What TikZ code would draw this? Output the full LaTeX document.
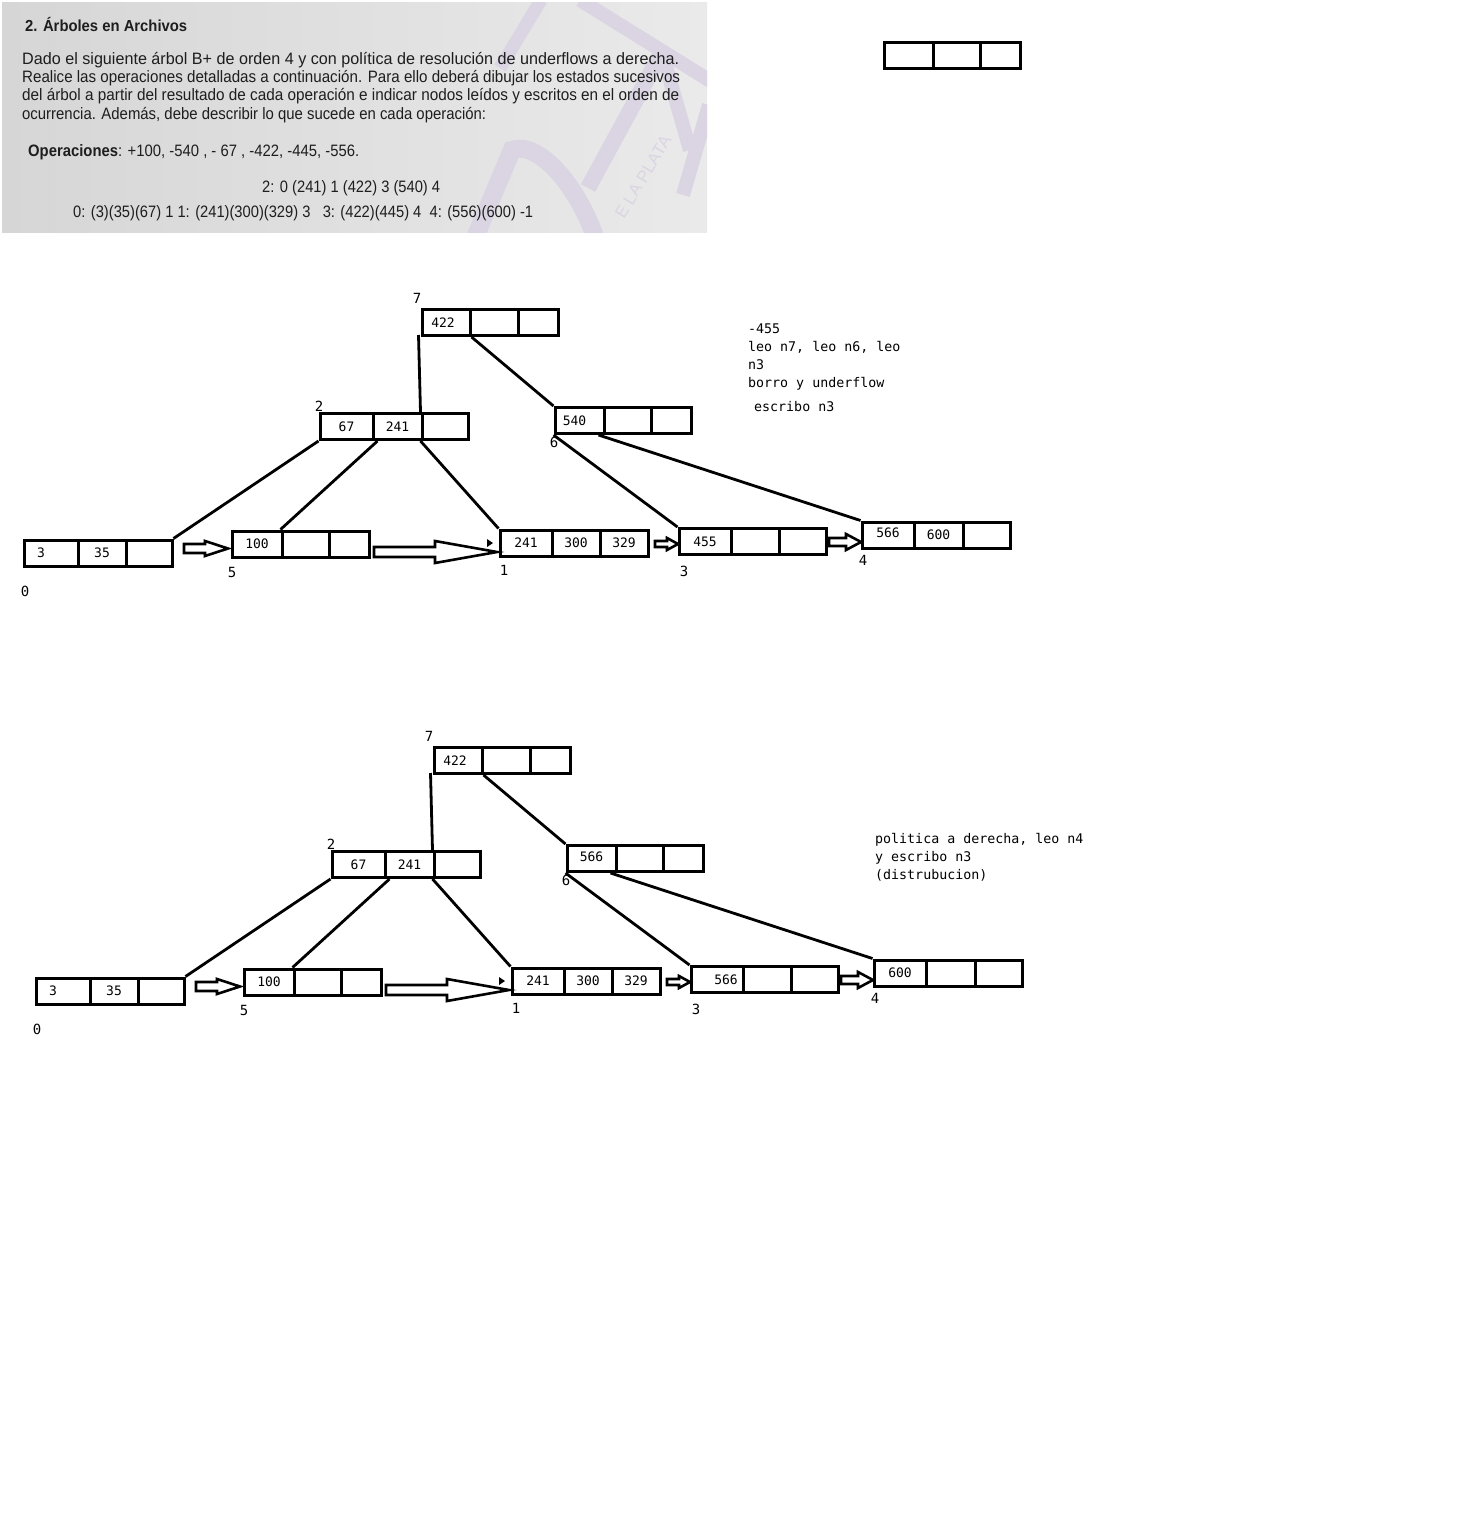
\documentclass[tikz,border=0pt]{standalone}
\usepackage{fontspec}
\usepackage{graphicx}
\usetikzlibrary{calc}
\setmainfont{Liberation Sans}
\newfontfamily\monof{DejaVu Sans Mono}
\newfontfamily\photof{Liberation Sans}
\definecolor{phototext}{RGB}{30,30,30}
\definecolor{wm}{RGB}{219,213,227}
\newlength\fitlen
\newcommand\fitw[2]{\settowidth\fitlen{#2}\pgfmathsetmacro\fitfac{#1/\fitlen}\scalebox{\fitfac}[1]{#2}}
\newcommand\tribox[9]{%
 \node[cell, minimum width={#3-#2}] (#1a) at ({(#2+#3)/2},#6) {#7};
 \node[cell, minimum width={#4-#3}] (#1b) at ({(#3+#4)/2},#6) {#8};
 \node[cell, minimum width={#5-#4}] (#1c) at ({(#4+#5)/2},#6) {#9};}
\newcommand\blockarrow[5]{\draw[barrow] let \p1=(#1), \p2=(#2) in
 (\x1,\y1-#3pt) -- (\x2-#5pt,\y1-#3pt) -- (\x2-#5pt,\y1-#4pt) -- (\x2,\y1)
 -- (\x2-#5pt,\y1+#4pt) -- (\x2-#5pt,\y1+#3pt) -- (\x1,\y1+#3pt) -- cycle;}
\newcommand\drawtree[5]{%
 \tribox{#1n7}{422}{470}{518}{558}{322.5}{\hspace*{-6pt}422}{}{}
 \tribox{#1n2}{320}{373}{422}{468}{426.5}{67}{241}{}
 \tribox{#1n6}{555}{604}{651}{691}{420.5}{#2}{}{}
 \tribox{#1n0}{24}{78}{126}{172}{553}{\hspace*{-20pt}3}{35}{}
 \tribox{#1n5}{232}{282}{329}{369}{544}{100}{}{}
 \tribox{#1n1}{500}{552}{600}{648}{543}{241}{300}{329}
 \tribox{#1n3}{679}{731}{779}{826}{541.5}{#3}{}{}
 \tribox{#1n4}{862}{914}{963}{1010}{535}{#4}{#5}{}
 \node[idx] (#1l7) at (417,298) {7};
 \node[idx] (#1l2) at (319,406) {2};
 \node[idx] (#1l6) at (554,442) {6};
 \node[idx] (#1l0) at (25,591) {0};
 \node[idx] (#1l5) at (232,572) {5};
 \node[idx] (#1l1) at (504,570) {1};
 \node[idx] (#1l3) at (684,571) {3};
 \node[idx] (#1l4) at (863,560) {4};
 \draw[conn] ([xshift=-2pt,yshift=2pt]#1n7a.south west) -- (#1n2c.north west);
 \draw[conn] (#1n7a.south east) -- (#1n6a.north west);
 \draw[conn] (#1n2a.south west) -- (#1n0c.north east);
 \draw[conn] ([xshift=6pt]#1n2b.south west) -- (#1n5b.north west);
 \draw[conn] (#1n2c.south west) -- (#1n1a.north west);
 \draw[conn] (#1n6a.south west) -- (#1n3a.north west);
 \draw[conn] ([xshift=-4pt]#1n6b.south west) -- (#1n4a.north west);
 \coordinate (#1a1s) at (184,548.5); \coordinate (#1a1e) at (228,548.5);
 \blockarrow{#1a1s}{#1a1e}{4.5}{7.5}{23}
 \coordinate (#1a2s) at (374,552); \coordinate (#1a2e) at (497,552);
 \blockarrow{#1a2s}{#1a2e}{5}{11}{62}
 \coordinate (#1a3s) at (655,544); \coordinate (#1a3e) at (678,544);
 \blockarrow{#1a3s}{#1a3e}{3}{6}{11}
 \coordinate (#1a4s) at (829,542); \coordinate (#1a4e) at (861,542);
 \blockarrow{#1a4s}{#1a4e}{4}{8}{15}
 \fill (487,539) -- (493,543) -- (487,547) -- cycle;
}
\begin{document}
\begin{tikzpicture}[x=1pt,y=-1pt,
 cell/.style={draw, line width=3pt, inner sep=0pt, minimum height=26pt,
   font=\monof\fontsize{13}{14}\selectfont},
 idx/.style={inner sep=0pt, font=\monof\fontsize{14}{15}\selectfont},
 conn/.style={line width=2.8pt},
 barrow/.style={draw, line width=2.6pt, fill=white, line join=miter},
 note/.style={inner sep=0pt, anchor=base west, font=\monof\fontsize{13.3}{18}\selectfont},
 photo/.style={inner sep=0pt, anchor=west, text=phototext,
   font=\photof\fontsize{16.5}{18}\selectfont},
 wmline/.style={draw=wm, line width=#1, line cap=butt}]
\useasboundingbox (0,0) rectangle (1482,1536);
\fill[white] (0,0) rectangle (1482,1536);
% ---- photo of the exercise
\shade[left color={rgb,255:red,214;green,214;blue,214}, right color={rgb,255:red,234;green,234;blue,234}] (2,3) rectangle (707,232);
\begin{scope}
\clip (2,3) rectangle (707,232);
\draw[wmline=13pt] (541,0) -- (500,68);
\draw[wmline=14pt] (580,0) -- (712,82);
\draw[wmline=16pt] (662,52) -- (588,188);
\draw[wmline=14pt] (662,52) -- (690,150);
\draw[wmline=14pt] (709,105) -- (683,195);
\draw[wmline=18pt] (474,240) -- (512,150) .. controls (540,140) and (580,190) .. (596,240);
\node[rotate=59, inner sep=0pt, text=wm, font=\photof\fontsize{17}{17}\selectfont] (wmtext) at (643,177) {E LA PLATA};
\end{scope}
\node[photo, font=\photof\bfseries\fontsize{16}{18}\selectfont] (ptitle) at (25,24) {\fitw{162}{2. Árboles en Archivos}};
\node[photo] (pl1) at (22,60) {\fitw{657}{Dado el siguiente árbol B+ de orden 4 y con política de resolución de underflows a derecha.}};
\node[photo] (pl2) at (22,78) {\fitw{658}{Realice las operaciones detalladas a continuación. Para ello deberá dibujar los estados sucesivos}};
\node[photo] (pl3) at (22,96) {\fitw{657}{del árbol a partir del resultado de cada operación e indicar nodos leídos y escritos en el orden de}};
\node[photo] (pl4) at (22,115) {\fitw{464}{ocurrencia. Además, debe describir lo que sucede en cada operación:}};
\node[photo] (pops) at (28,152) {\fitw{331}{\textbf{Operaciones}: +100, -540 , - 67 , -422, -445, -556.}};
\node[photo] (pl6) at (262,188) {\fitw{178}{2: 0 (241) 1 (422) 3 (540) 4}};
\node[photo] (pl7) at (73,213) {\fitw{460}{0: (3)(35)(67) 1 1: (241)(300)(329) 3 \ \ 3: (422)(445) 4 \ 4: (556)(600) -1}};
% ---- empty node, top right
\tribox{e}{884}{933}{980}{1020}{56}{}{}{}
% ---- first tree
\begin{scope}
\drawtree{T}{\hspace*{-10pt}540}{455}{\raisebox{5pt}{566}}{600}
\end{scope}
% ---- second tree
\begin{scope}[shift={(12,438)}]
\drawtree{B}{\raisebox{3pt}{566}}{\hspace*{18pt}566}{600}{}
\end{scope}
% ---- notes
\node[note] (t1) at (748,333) {-455};
\node[note] (t2) at (748,351) {leo n7, leo n6, leo};
\node[note] (t3) at (748,369) {n3};
\node[note] (t4) at (748,387) {borro y underflow};
\node[note] (t5) at (754,411) {escribo n3};
\node[note] (u1) at (875,843) {politica a derecha, leo n4};
\node[note] (u2) at (875,861) {y escribo n3};
\node[note] (u3) at (875,879) {(distrubucion)};
\end{tikzpicture}
\end{document}
